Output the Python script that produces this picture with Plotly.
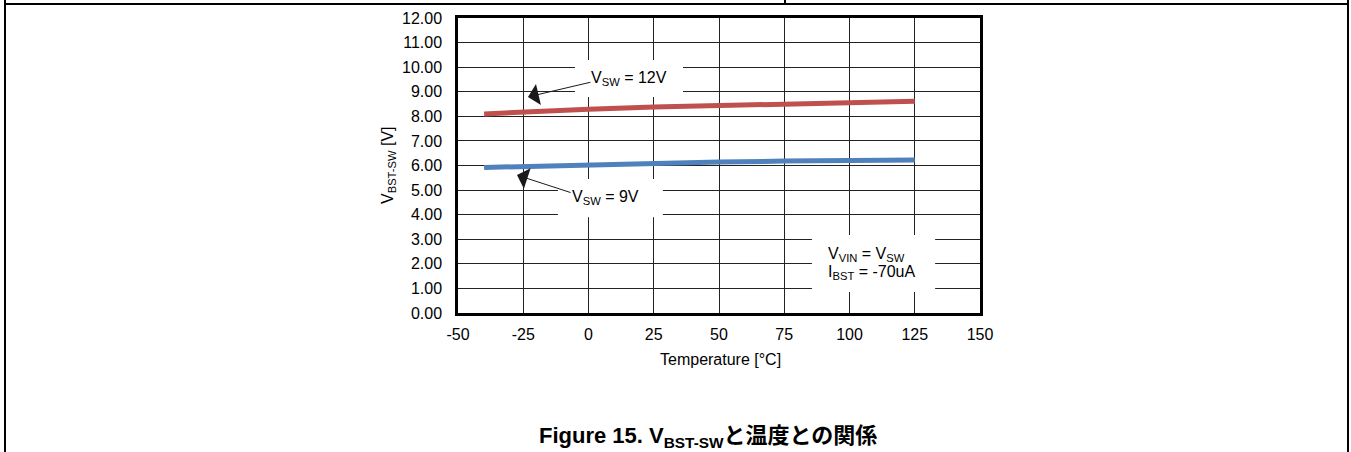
import plotly.graph_objects as go

W, H = 1351, 452

# ---- data ----
temperature = [-40, -25, 0, 25, 50, 75, 100, 125]
vbst_sw_12v = [8.10, 8.18, 8.29, 8.38, 8.45, 8.51, 8.56, 8.61]
vbst_sw_9v = [5.92, 5.96, 6.03, 6.09, 6.14, 6.18, 6.20, 6.22]
x_ticks = [-50, -25, 0, 25, 50, 75, 100, 125, 150]
y_ticks = [0, 1, 2, 3, 4, 5, 6, 7, 8, 9, 10, 11, 12]
y_tick_labels = [f"{v:.2f}" for v in y_ticks]

FONT = "Liberation Sans, Arial, Noto Sans CJK JP, sans-serif"

def px(x):
    return x / W

def py(y):
    return 1 - y / H

fig = go.Figure()
fig.add_trace(go.Scatter(x=temperature, y=vbst_sw_12v, mode="lines",
                         line=dict(color="#C0504D", width=5), showlegend=False))
fig.add_trace(go.Scatter(x=temperature, y=vbst_sw_9v, mode="lines",
                         line=dict(color="#4F81BD", width=5), showlegend=False))

shapes = []
# white label boxes covering the grid
for (x0, x1, y0, y1) in [(-5.2, 36.2, 8.79, 10.29), (-11.7, 28.5, 3.9, 5.45), (85.6, 132.8, 0.85, 3.17)]:
    shapes.append(dict(type="rect", xref="x", yref="y", x0=x0, x1=x1, y0=y0, y1=y1,
                       fillcolor="white", line=dict(width=0), layer="above"))
# page borders
for (x0, y0, x1, y1) in [(5, 0, 5, 452), (1348, 0, 1348, 452), (5, 4, 1348, 4), (785, 0, 785, 4)]:
    shapes.append(dict(type="line", xref="paper", yref="paper", x0=px(x0), x1=px(x1),
                       y0=py(y0), y1=py(y1), line=dict(color="black", width=2)))

txt = dict(size=16, color="black", family=FONT)
ann = []
# labels
ann.append(dict(x=15.5, y=9.54, xref="x", yref="y", xanchor="center", yanchor="middle",
                text="V<sub>SW</sub> = 12V", showarrow=False, font=txt))
ann.append(dict(x=6.7, y=4.68, xref="x", yref="y", xanchor="center", yanchor="middle",
                text="V<sub>SW</sub> = 9V", showarrow=False, font=txt))
ann.append(dict(x=91.0, y=2.37, xref="x", yref="y", xanchor="left", yanchor="middle",
                text="V<sub>VIN</sub> = V<sub>SW</sub>", showarrow=False, font=txt))
ann.append(dict(x=91.0, y=1.66, xref="x", yref="y", xanchor="left", yanchor="middle",
                text="I<sub>BST</sub> = -70uA", showarrow=False, font=txt))
# arrows
for (hx, hy, tx, ty) in [(-23.2, 8.79, 1.3, 9.4), (-27.4, 5.61, -6.3, 4.88)]:
    ann.append(dict(x=hx, y=hy, ax=tx, ay=ty, xref="x", yref="y", axref="x", ayref="y",
                    text="", showarrow=True, arrowhead=1, arrowsize=3.6, arrowwidth=1,
                    arrowcolor="#1a1a1a", standoff=0, startstandoff=0))
# axis titles
ann.append(dict(x=px(389), y=py(165), xref="paper", yref="paper", xanchor="center", yanchor="middle",
                textangle=-90, text="V<sub>BST-SW</sub> [V]", showarrow=False, font=txt))
ann.append(dict(x=px(720), y=py(359), xref="paper", yref="paper", xanchor="center", yanchor="middle",
                text="Temperature [°C]", showarrow=False, font=txt))
# caption
ann.append(dict(x=px(708), y=py(437), xref="paper", yref="paper", xanchor="center", yanchor="middle",
                text="<b>Figure 15. V<sub>BST-SW</sub>と温度との関係</b>", showarrow=False,
                font=dict(size=22, color="black", family=FONT)))

fig.update_layout(
    width=W, height=H, margin=dict(l=0, r=0, t=0, b=0),
    paper_bgcolor="white", plot_bgcolor="white",
    shapes=shapes, annotations=ann,
    xaxis=dict(domain=[px(458), px(980)], range=[-50, 150], tickvals=x_ticks,
               ticktext=[str(v) for v in x_ticks], showgrid=True, gridcolor="#222", gridwidth=1,
               zeroline=False, showline=True, linecolor="black", linewidth=2.5, mirror=True,
               ticks="", ticklabelstandoff=5, automargin=False,
               tickfont=dict(size=16, color="black", family=FONT)),
    yaxis=dict(domain=[py(313), py(18)], range=[0, 12], tickvals=y_ticks, ticktext=y_tick_labels,
               showgrid=True, gridcolor="#222", gridwidth=1,
               zeroline=False, showline=True, linecolor="black", linewidth=2.5, mirror=True,
               ticks="", ticklabelstandoff=10, automargin=False,
               tickfont=dict(size=16, color="black", family=FONT)),
)

fig.write_html("out.html")
